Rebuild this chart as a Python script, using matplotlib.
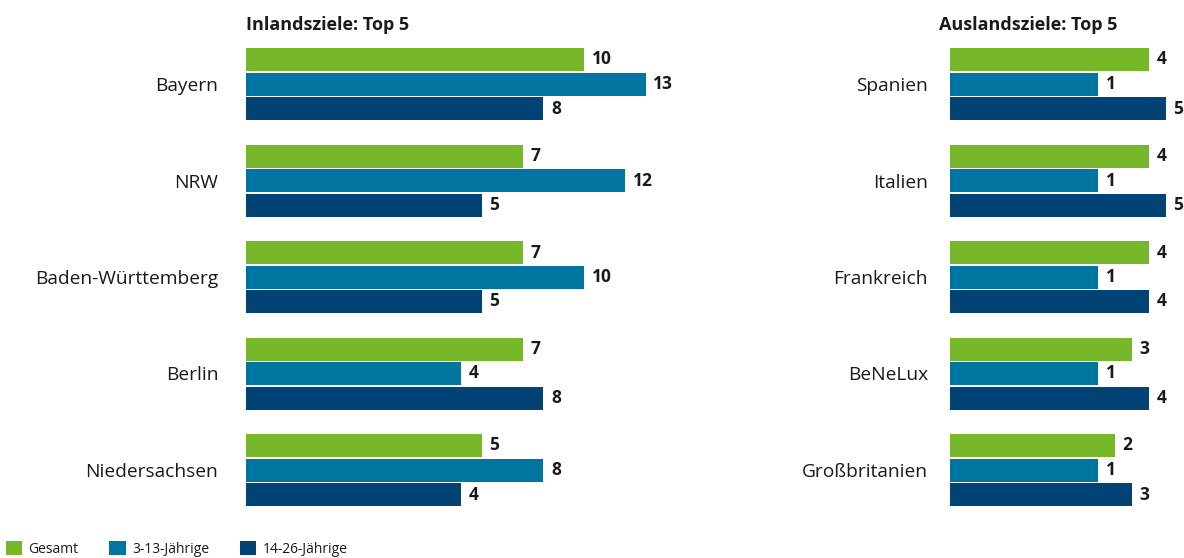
import numpy as np
import matplotlib
matplotlib.use("Agg")
import matplotlib.pyplot as plt
from matplotlib.patches import Patch

plt.rcParams['font.family'] = ['Open Sans', 'DejaVu Sans']

# Inland destinations (percent)
inland = ["Bayern", "NRW", "Baden-Württemberg", "Berlin", "Niedersachsen"]
inland_gesamt = [10, 7, 7, 7, 5]
inland_kinder = [13, 12, 10, 4, 8]
inland_jugend = [8, 5, 5, 8, 4]

# Foreign destinations (percent)
ausland = ["Spanien", "Italien", "Frankreich", "BeNeLux", "Großbritanien"]
ausland_gesamt = [4, 4, 4, 3, 2]
ausland_kinder = [1, 1, 1, 1, 1]
ausland_jugend = [5, 5, 4, 4, 3]

series_names = ["Gesamt", "3-13-Jährige", "14-26-Jährige"]
colors = ["#76b82a", "#0075a0", "#004374"]
TXT = "#1a1a1a"

W, H = 1184, 558
fig = plt.figure(figsize=(W / 100, H / 100), dpi=100)

# y-range of both panels (pixels from top)
top_px, bot_px = 40, 520
pitch = 96.5
first_c = 84
ylo = (top_px - first_c) / pitch
yhi = (bot_px - first_c) / pitch


def panel(x0, width, xmin, pxper, cats, vals, title, title_x, label_pad):
    ax = fig.add_axes([x0 / W, 1 - bot_px / H, width / W, (bot_px - top_px) / H])
    xmax = xmin + width / pxper
    ax.set_xlim(xmin, xmax)
    ax.set_ylim(yhi, ylo)
    y = np.arange(len(cats))
    off = 24.5 / pitch
    h = 23 / pitch
    for k, v in enumerate(vals):
        v = np.array(v, dtype=float)
        yy = y + (k - 1) * off
        ax.barh(yy, v - xmin, left=xmin, height=h, color=colors[k], linewidth=0)
        for yi, vi in zip(yy, v):
            ax.annotate(f"{vi:g}", (vi, yi), xytext=(5.5, 0), textcoords="offset points",
                        ha="left", va="center", fontsize=12.5, fontweight="bold", color=TXT)
    ax.set_yticks(y)
    ax.set_yticklabels(cats, fontsize=13.8, color=TXT)
    ax.tick_params(axis="y", length=0, pad=label_pad)
    ax.set_xticks([])
    for s in ax.spines.values():
        s.set_visible(False)
    fig.text(title_x / W, 1 - 25 / H, title, fontsize=13, fontweight="bold",
             color=TXT, ha="left", va="center")
    return ax


panel(246, 520, -6.5, 20.5, inland, [inland_gesamt, inland_kinder, inland_jugend],
      "Inlandsziele: Top 5", 246, 20)
panel(950, 234, -7.7, 17.0, ausland, [ausland_gesamt, ausland_kinder, ausland_jugend],
      "Auslandsziele: Top 5", 939, 16)

handles = [Patch(facecolor=c, edgecolor="none") for c in colors]
fig.legend(handles, series_names, loc="lower left", bbox_to_anchor=(0.0, -0.008),
           ncol=3, frameon=False, fontsize=10, handlelength=1.2, handleheight=1.2,
           handletextpad=0.45, columnspacing=2.2, borderaxespad=0.3, borderpad=0.1,
           labelcolor=TXT)

fig.savefig("out.png", dpi=100)
